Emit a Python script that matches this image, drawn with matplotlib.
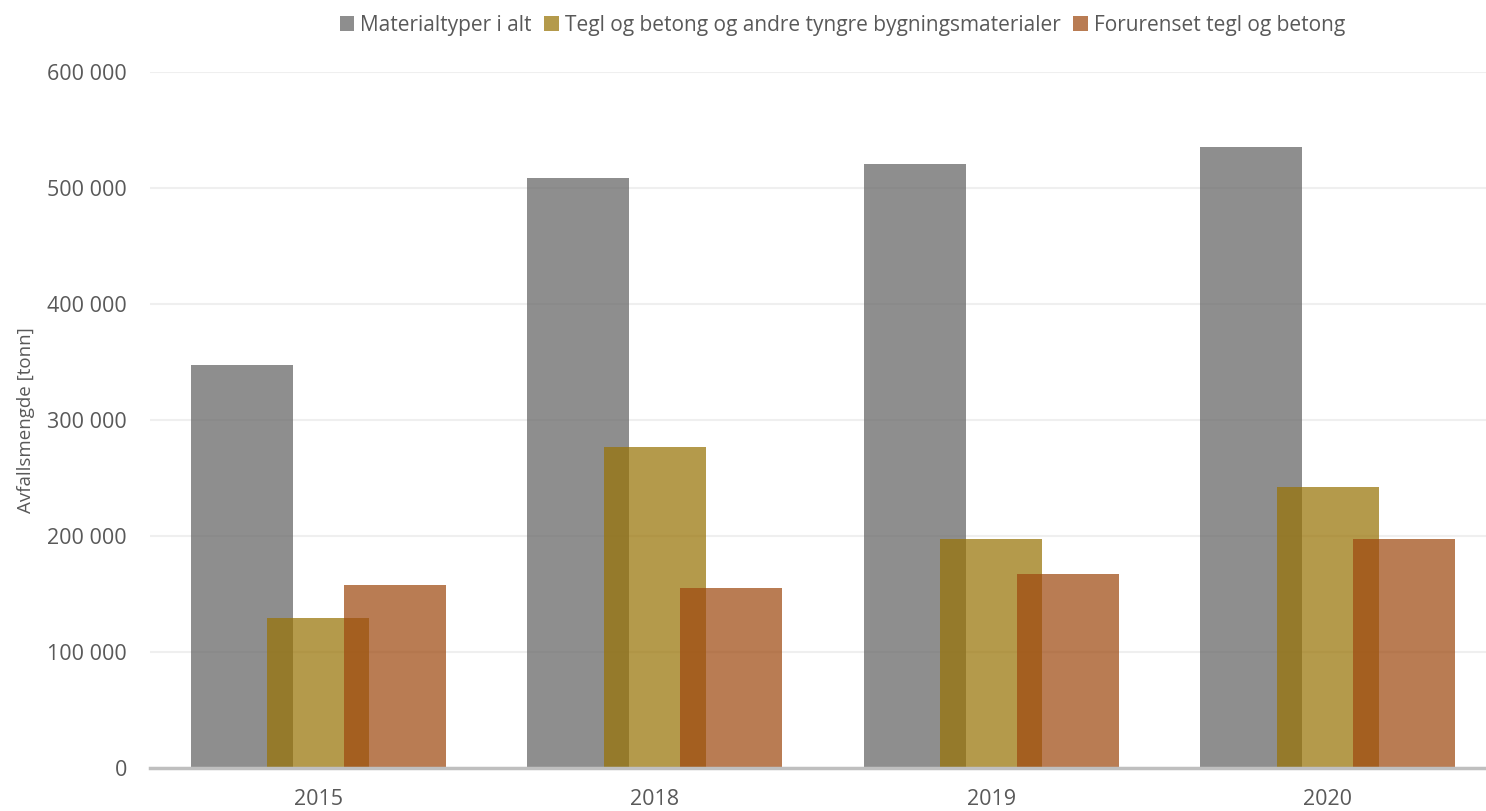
import matplotlib
matplotlib.use("Agg")
import matplotlib.pyplot as plt
from matplotlib.ticker import FuncFormatter
from matplotlib import font_manager
import numpy as np

years = ["2015", "2018", "2019", "2020"]
series_names = ["Materialtyper i alt",
                "Tegl og betong og andre tyngre bygningsmaterialer",
                "Forurenset tegl og betong"]
total = [347000, 509000, 521000, 535000]
tegl = [129000, 277000, 197000, 242000]
forurenset = [158000, 155000, 167000, 197000]
colors = ["#636363", "#987305", "#9e4910"]

names = {f.name for f in font_manager.fontManager.ttflist}
leg_font = "Liberation Sans Narrow" if "Liberation Sans Narrow" in names else "Open Sans"

plt.rcParams['font.family'] = ['Open Sans', 'DejaVu Sans']

fig = plt.figure(figsize=(14.86, 8.11), dpi=100)
ax = fig.add_axes([150/1486, 43/811, 1336/1486, 696/811])

x = np.arange(len(years))
w = 0.303
off = 0.227
alpha = 0.72
for i, (vals, c, n) in enumerate(zip([total, tegl, forurenset], colors, series_names)):
    ax.bar(x + (i - 1) * off, vals, width=w, color=c, alpha=alpha, label=n, zorder=2, linewidth=0)

ax.set_ylim(0, 600000)
ax.set_xlim(-0.5, 3.47)
ax.set_yticks(np.arange(0, 600001, 100000))
ax.yaxis.set_major_formatter(FuncFormatter(lambda v, p: f"{int(v):,}".replace(",", " ")))
ax.set_xticks(x)
ax.set_xticklabels(years)
ax.grid(axis='y', color='#efefef', linewidth=1.5, zorder=0)
ax.set_axisbelow(True)
for s in ['top', 'right', 'left']:
    ax.spines[s].set_visible(False)
ax.spines['bottom'].set_color('#bfbfbf')
ax.spines['bottom'].set_linewidth(2.5)
ax.tick_params(axis='both', length=0, labelsize=15.5, colors='#595959')
ax.tick_params(axis='y', pad=16.5)
ax.tick_params(axis='x', pad=15)
ax.set_ylabel("Avfallsmengde [tonn]", fontsize=13.5, color='#595959', labelpad=9)

leg = fig.legend(loc='upper center', bbox_to_anchor=(0.567, 1.005), ncol=3, frameon=False,
                 prop={'family': leg_font, 'size': 15}, labelcolor='#595959',
                 handlelength=0.7, handleheight=0.7, handletextpad=0.3, columnspacing=0.6)

fig.savefig("out.png", dpi=100)
